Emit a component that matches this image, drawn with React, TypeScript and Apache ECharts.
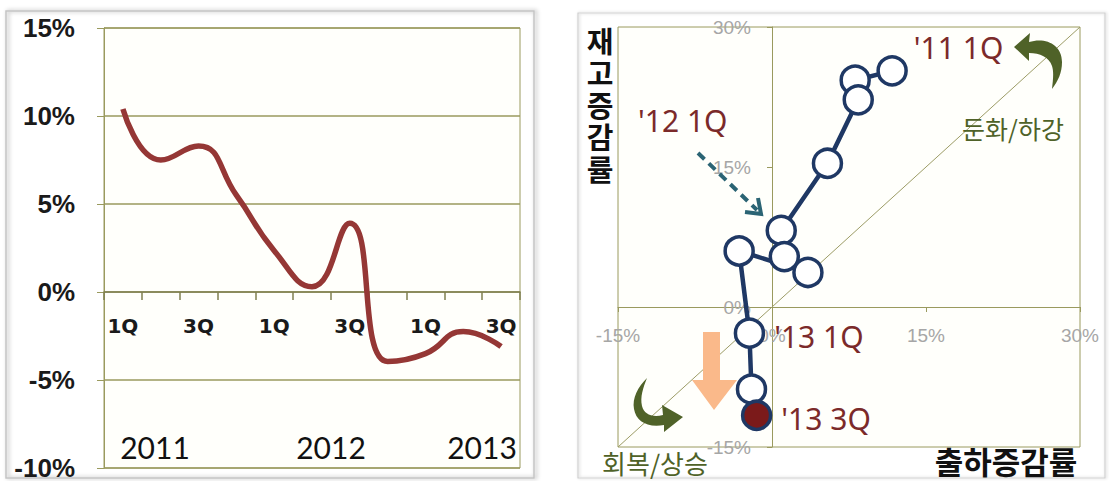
import React, { useEffect, useRef } from 'react';
import * as echarts from 'echarts';

// Left panel: quarterly growth rate (%)
const quarters = ['1Q', '2Q', '3Q', '4Q', '1Q', '2Q', '3Q', '4Q', '1Q', '2Q', '3Q'];
const growth = [10.4, 7.5, 8.3, 5.5, 2.35, 0.3, 3.9, -3.95, -3.5, -2.25, -3.1];
const years = ['2011', '2012', '2013'];

// Right panel: inventory cycle (shipment growth vs inventory growth, %)
const shipment = [11.7, 8.1, 8.4, 5.4, 0.9, 1.2, 3.5, -3.2, -2.2, -2.0, -1.5];
const inventory = [25.3, 24.3, 22.2, 15.4, 8.2, 5.4, 3.7, 6.0, -2.8, -8.8, -11.6];
const cycleLabels = ["'11 1Q", '', '', '', "'12 1Q", '', '', '', "'13 1Q", '', "'13 3Q"];
const diagonal = [[-15, -15], [30, 30]];

const OLIVE = '#9a9a5e';
const NAVY = '#1f3864';
const DARK_RED = '#7b2a2a';
const ARROW_GREEN = '#4f6228';

// plot boxes
const L = { left: 104, top: 28, width: 416, height: 440, min: -10, max: 15 };
const R = { left: 618, top: 27, width: 462, height: 420, min: -15, max: 30 };
// distance from the bottom/left edge of each box to its zero line
const leftZeroFromBottom = (L.height * (0 - L.min)) / (L.max - L.min);
const rightZeroFromBottom = (R.height * (0 - R.min)) / (R.max - R.min);
const rightZeroFromLeft = (R.width * (0 - R.min)) / (R.max - R.min);

const topTurnArrow =
  'M1014,47 L1030,33 L1029,42 C1045,37 1062,44 1062,62 C1062,73 1058,81 1052,89 ' +
  'C1053,80 1054,72 1052,66 C1049,57 1040,53 1029,53 L1029,61 Z';
const bottomTurnArrow =
  'M647,378 C638,387 632,398 634,409 C636,421 647,428 664,425 L664,432 L683,417 ' +
  'L662,405 L663,415 C652,418 644,414 642,406 C640,397 643,388 647,378 Z';

echarts.graphic.registerShape('turnArrowTop', echarts.graphic.extendPath(topTurnArrow, {}));
echarts.graphic.registerShape('turnArrowBottom', echarts.graphic.extendPath(bottomTurnArrow, {}));

export default function App() {
  const ref = useRef<HTMLDivElement>(null);

  useEffect(() => {
    document.body.style.margin = '0';
    const chart = echarts.init(ref.current!, null, { renderer: 'svg' });

    const cycleData = shipment.map((x, i) => {
      const item: any = { value: [x, inventory[i]] };
      const name = cycleLabels[i];
      if (i === shipment.length - 1) {
        item.itemStyle = { color: '#7b1a1a' };
      }
      if (name) {
        const label: any = {
          show: true,
          formatter: name,
          color: DARK_RED,
          fontSize: 30,
          fontFamily: 'Noto Sans',
        };
        if (i === 0) Object.assign(label, { position: 'right', distance: 6, offset: [0, -23] });
        else if (i === 4) Object.assign(label, { position: 'left', distance: 38, offset: [0, -110] });
        else Object.assign(label, { position: 'right', distance: 9, offset: [0, 3] });
        item.label = label;
      }
      return item;
    });

    const option: any = {
      animation: false,
      backgroundColor: '#ffffff',
      grid: [
        {
          left: L.left, top: L.top, width: L.width, height: L.height,
          show: true, borderColor: OLIVE, borderWidth: 1, backgroundColor: '#fffffb',
          containLabel: false, outerBoundsMode: 'none',
        },
        {
          left: R.left, top: R.top, width: R.width, height: R.height,
          show: true, borderColor: OLIVE, borderWidth: 1, backgroundColor: '#fffffb',
          containLabel: false, outerBoundsMode: 'none',
        },
      ],
      xAxis: [
        {
          type: 'category',
          gridIndex: 0,
          data: quarters,
          boundaryGap: true,
          position: 'bottom',
          offset: -leftZeroFromBottom,
          axisLine: { onZero: false, lineStyle: { color: '#7f7f50', width: 1.5 } },
          axisTick: { show: true, interval: 0, length: 8, lineStyle: { color: '#7f7f50', width: 1.5 } },
          axisLabel: {
            interval: 1,
            margin: 24,
            color: '#1a1a1a',
            fontSize: 20,
            fontWeight: 'bold',
            fontFamily: 'DejaVu Sans',
          },
          splitLine: { show: false },
        },
        {
          type: 'value',
          gridIndex: 1,
          min: R.min,
          max: R.max,
          interval: 15,
          position: 'bottom',
          offset: -rightZeroFromBottom,
          axisLine: { onZero: false, lineStyle: { color: OLIVE, width: 1 } },
          axisTick: { show: true, length: 5, lineStyle: { color: OLIVE } },
          axisLabel: {
            margin: 19,
            color: '#a6a6a6',
            fontSize: 19,
            fontFamily: 'Liberation Sans',
            formatter: '{value}%',
          },
          splitLine: { show: false },
        },
      ],
      yAxis: [
        {
          type: 'value',
          gridIndex: 0,
          min: L.min,
          max: L.max,
          interval: 5,
          axisLine: { show: true, onZero: false, lineStyle: { color: OLIVE } },
          axisTick: { show: true, length: 7, lineStyle: { color: OLIVE } },
          axisLabel: {
            margin: 29,
            color: '#1a1a1a',
            fontSize: 26,
            fontWeight: 'bold',
            fontFamily: 'Liberation Sans',
            formatter: '{value}%',
          },
          splitLine: { show: true, lineStyle: { color: OLIVE, width: 1.5 } },
        },
        {
          type: 'value',
          gridIndex: 1,
          min: R.min,
          max: R.max,
          interval: 15,
          position: 'left',
          offset: -rightZeroFromLeft,
          axisLine: { show: true, onZero: false, lineStyle: { color: OLIVE, width: 1 } },
          axisTick: { show: true, length: 5, lineStyle: { color: OLIVE } },
          axisLabel: {
            margin: 21,
            color: '#a6a6a6',
            fontSize: 19,
            fontFamily: 'Liberation Sans',
            formatter: '{value}%',
          },
          splitLine: { show: false },
        },
      ],
      series: [
        {
          type: 'line',
          xAxisIndex: 0,
          yAxisIndex: 0,
          data: growth,
          smooth: 0.5,
          symbol: 'none',
          lineStyle: { color: '#953735', width: 5.5 },
          silent: true,
        },
        {
          type: 'line',
          xAxisIndex: 1,
          yAxisIndex: 1,
          data: diagonal,
          symbol: 'none',
          lineStyle: { color: '#9c9c66', width: 1 },
          silent: true,
          z: 1,
        },
        {
          type: 'line',
          xAxisIndex: 1,
          yAxisIndex: 1,
          data: cycleData,
          symbol: 'circle',
          symbolSize: 28,
          showAllSymbol: true,
          lineStyle: { color: NAVY, width: 4.5 },
          itemStyle: { color: '#ffffff', borderColor: NAVY, borderWidth: 3.5 },
          z: 5,
        },
      ],
      graphic: [
        // panel frames
        {
          type: 'rect',
          shape: { x: 6, y: 11, width: 528, height: 467 },
          style: { fill: 'none', stroke: '#c4c4c4', lineWidth: 1.5, shadowBlur: 4, shadowColor: 'rgba(0,0,0,0.35)', shadowOffsetX: 2 },
          silent: true,
          z: -1,
        },
        {
          type: 'rect',
          shape: { x: 578, y: 13, width: 527, height: 465 },
          style: { fill: 'none', stroke: '#d0d0d0', lineWidth: 1.2, shadowBlur: 3, shadowColor: 'rgba(0,0,0,0.2)', shadowOffsetX: 1 },
          silent: true,
          z: -1,
        },
        // year captions under the quarters
        ...years.map((y, i) => ({
          type: 'text',
          z: 50,
          style: {
            text: y,
            x: [155, 331, 482][i],
            y: 447,
            align: 'center',
            verticalAlign: 'middle',
            fontSize: 30,
            fontFamily: 'Lato',
            fill: '#111111',
          },
        })),
        // axis titles
        {
          type: 'text',
          z: 50,
          style: {
            text: '재\n고\n증\n감\n률',
            x: 600,
            y: 24,
            align: 'center',
            verticalAlign: 'top',
            fontSize: 29,
            lineHeight: 32,
            fontWeight: 'bold',
            fontFamily: 'Noto Sans CJK KR',
            fill: '#111111',
          },
        },
        {
          type: 'text',
          z: 50,
          style: {
            text: '출하증감률',
            x: 1006,
            y: 445,
            align: 'center',
            verticalAlign: 'top',
            fontSize: 31,
            fontWeight: 'bold',
            fontFamily: 'Noto Sans CJK KR',
            fill: '#111111',
          },
        },
        // quadrant captions
        {
          type: 'text',
          z: 50,
          style: {
            text: '둔화/하강',
            x: 1013,
            y: 128,
            align: 'center',
            verticalAlign: 'middle',
            fontSize: 25,
            fontFamily: 'Noto Sans CJK KR',
            fill: ARROW_GREEN,
          },
        },
        {
          type: 'text',
          z: 50,
          style: {
            text: '회복/상승',
            x: 655,
            y: 462,
            align: 'center',
            verticalAlign: 'middle',
            fontSize: 26,
            fontFamily: 'Noto Sans CJK KR',
            fill: ARROW_GREEN,
          },
        },
        // turning arrows
        { type: 'turnArrowTop', z: 40, x: 0, y: 0, style: { fill: ARROW_GREEN } },
        { type: 'turnArrowBottom', z: 40, x: 0, y: 0, style: { fill: ARROW_GREEN } },
        // dashed pointer to '12 1Q
        {
          type: 'line',
          z: 40,
          shape: { x1: 698, y1: 153, x2: 757, y2: 210 },
          style: { stroke: '#2b6474', lineWidth: 4, lineDash: [9, 6] },
        },
        {
          type: 'polyline',
          z: 40,
          shape: { points: [[745, 212], [761, 214], [758, 198]] },
          style: { stroke: '#2b6474', lineWidth: 4, fill: 'none' },
        },
        // downward block arrow
        {
          type: 'polygon',
          z: 40,
          shape: { points: [[703, 332], [720, 332], [720, 380], [737, 380], [714, 410], [692, 380], [703, 380]] },
          style: { fill: '#fab98a' },
        },
      ],
    };

    chart.setOption(option);
    return () => chart.dispose();
  }, []);

  return <div ref={ref} style={{ width: 1109, height: 481 }} />;
}
